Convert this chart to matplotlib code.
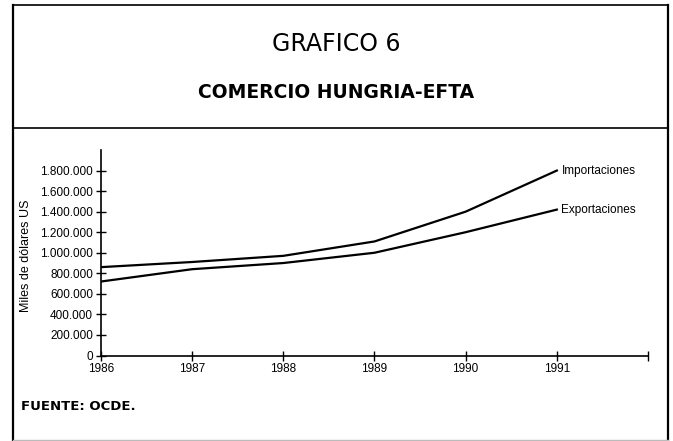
import matplotlib.pyplot as plt
from matplotlib.lines import Line2D
from matplotlib.ticker import FuncFormatter

# datos (miles de dólares US)
years = [1986, 1987, 1988, 1989, 1990, 1991]
importaciones = [860000, 910000, 970000, 1110000, 1400000, 1800000]
exportaciones = [720000, 840000, 900000, 1000000, 1200000, 1420000]

plt.rcParams['font.family'] = ['Liberation Sans Narrow', 'Liberation Sans', 'DejaVu Sans']

W, H = 673, 441
fig = plt.figure(figsize=(W / 100, H / 100), dpi=100)


def fline(x0, y0, x1, y1, color='black', lw=1.4):
    # línea en píxeles de la figura (origen arriba a la izquierda)
    fig.lines.append(Line2D([x0 / W, x1 / W], [1 - y0 / H, 1 - y1 / H],
                            transform=fig.transFigure, color=color, linewidth=lw))


# marco
fline(13, 5, 668, 5, lw=1.2)
fline(13, 5, 13, 440, lw=1.6)
fline(668, 5, 668, 440, lw=1.6)
fline(13, 439.5, 668, 439.5, color='#bbbbbb', lw=1)
# línea bajo el título
fline(13, 128, 668, 128, lw=1.2)

fig.text(0.5, 1 - 44 / H, 'GRAFICO 6', ha='center', va='center', fontsize=17,
         family=['DejaVu Sans'])
fig.text(0.5, 1 - 92 / H, 'COMERCIO HUNGRIA-EFTA', ha='center', va='center', fontsize=13.5,
         fontweight='bold', family=['DejaVu Sans'])
fig.text(21 / W, 1 - 406 / H, 'FUENTE: OCDE.', ha='left', va='center', fontsize=9.5,
         fontweight='bold', family=['DejaVu Sans'])

ax = fig.add_axes([101 / W, 1 - 355.5 / H, 547 / W, 205.5 / H])
ax.plot(years, importaciones, color='black', linewidth=1.6)
ax.plot(years, exportaciones, color='black', linewidth=1.6)

ax.text(1991.05, importaciones[-1], 'Importaciones', ha='left', va='center', fontsize=8.5)
ax.text(1991.05, exportaciones[-1], 'Exportaciones', ha='left', va='center', fontsize=8.5)

ax.set_xlim(1986, 1992)
ax.set_ylim(0, 2000000)
ax.set_xticks([1986, 1987, 1988, 1989, 1990, 1991, 1992])
ax.set_xticklabels(['1986', '1987', '1988', '1989', '1990', '1991', ''])
ax.set_yticks(range(0, 1800001, 200000))
ax.yaxis.set_major_formatter(FuncFormatter(lambda v, p: f'{int(v):,}'.replace(',', '.')))
ax.tick_params(axis='both', direction='inout', length=7.5, width=1, labelsize=8.5, pad=2)

for s in ['top', 'right']:
    ax.spines[s].set_visible(False)
for s in ['left', 'bottom']:
    ax.spines[s].set_linewidth(1.2)

ax.set_ylabel('Miles de dólares US', fontsize=9)
ax.yaxis.set_label_coords(-0.126, 0.484)

fig.savefig('out.png', dpi=100)
